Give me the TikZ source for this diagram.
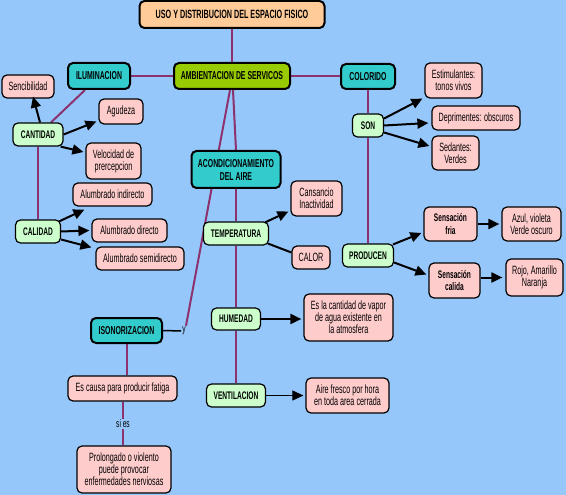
\documentclass[tikz,border=0pt]{standalone}
\usepackage{fontspec}
\setmainfont[FakeStretch=0.6]{Liberation Sans}
\usetikzlibrary{arrows.meta,calc,backgrounds}
\definecolor{bgc}{RGB}{150,199,250}
\definecolor{titlec}{RGB}{255,204,153}
\definecolor{ambc}{RGB}{153,204,0}
\definecolor{tealc}{RGB}{51,204,204}
\definecolor{pinkc}{RGB}{255,204,204}
\definecolor{greenc}{RGB}{204,255,204}
\definecolor{purp}{RGB}{140,50,110}
\tikzset{
  box/.style={draw=black, rounded corners=5pt, inner sep=0pt, align=center, line width=1.2pt},
  pinkbox/.style={box, fill=pinkc, font=\fontsize{12}{12}\selectfont},
  greenbox/.style={box, fill=greenc, font=\fontsize{11}{12}\selectfont\bfseries},
  boldpink/.style={box, fill=pinkc, font=\fontsize{11}{12.5}\selectfont\bfseries},
  tealbox/.style={box, fill=tealc, line width=2pt, font=\fontsize{11.5}{13}\selectfont\bfseries},
  ambbox/.style={box, fill=ambc, line width=2pt, font=\fontsize{11.5}{12}\selectfont\bfseries},
  titlebox/.style={box, fill=titlec, line width=2pt, font=\fontsize{12}{12}\selectfont\bfseries},
  lbl/.style={inner sep=1pt, font=\fontsize{11}{11}\selectfont},
  link/.style={draw=purp, line width=2pt},
  arr/.style={draw=black, line width=2pt, -{Triangle[length=11pt,width=10pt]}},
  thinarr/.style={draw=black, line width=1pt, -{Triangle[length=11pt,width=10pt]}},
  plain/.style={draw=black, line width=2pt},
}
\begin{document}
\begin{tikzpicture}[x=1pt,y=-1pt]
\useasboundingbox (0,0) rectangle (566,495);
\begin{scope}[on background layer]
\fill[bgc] (0,0) rectangle (566,495);
\end{scope}

\node[titlebox, minimum width=185pt, minimum height=27pt] (title) at (232,14.5) {USO Y DISTRIBUCION DEL ESPACIO FISICO};
\node[ambbox, minimum width=116pt, minimum height=26pt] (amb) at (232,76) {AMBIENTACION DE SERVICOS};
\node[tealbox, minimum width=62pt, minimum height=26pt] (ilum) at (99,76) {ILUMINACION};
\node[tealbox, minimum width=54pt, minimum height=25pt] (color) at (368,76.5) {COLORIDO};
\node[pinkbox, minimum width=52pt, minimum height=23pt] (sencib) at (28,86.5) {Sencibilidad};
\node[pinkbox, minimum width=44pt, minimum height=25pt] (agud) at (121,111.5) {Agudeza};
\node[greenbox, minimum width=50pt, minimum height=23pt] (cant) at (38,134.5) {CANTIDAD};
\node[pinkbox, minimum width=55pt, minimum height=36pt] (velo) at (113.5,161) {Velocidad de\\prercepcion};
\node[tealbox, minimum width=89pt, minimum height=37pt] (acond) at (236,169.5) {ACONDICIONAMIENTO\\DEL AIRE};
\node[pinkbox, minimum width=79pt, minimum height=23pt] (alind) at (112.5,194.5) {Alumbrado indirecto};
\node[pinkbox, minimum width=57pt, minimum height=35pt] (estim) at (453.5,80.5) {Estimulantes:\\tonos vivos};
\node[pinkbox, minimum width=88pt, minimum height=24pt] (deprim) at (476,118) {Deprimentes: obscuros};
\node[greenbox, minimum width=31pt, minimum height=23pt] (son) at (368,125.5) {SON};
\node[pinkbox, minimum width=47pt, minimum height=34pt] (sed) at (455.5,153) {Sedantes:\\Verdes};
\node[pinkbox, minimum width=51pt, minimum height=35pt] (cans) at (316.5,198.5) {Cansancio\\Inactividad};
\node[greenbox, minimum width=45pt, minimum height=23pt] (calid) at (38,231.5) {CALIDAD};
\node[pinkbox, minimum width=75pt, minimum height=23pt] (aldir) at (129.5,230.5) {Alumbrado directo};
\node[greenbox, minimum width=65pt, minimum height=23pt] (temp) at (236,233.5) {TEMPERATURA};
\node[pinkbox, minimum width=88pt, minimum height=23pt] (alsemi) at (140,258.5) {Alumbrado semidirecto};
\node[pinkbox, minimum width=38pt, minimum height=23pt] (calor) at (311,257.5) {CALOR};
\node[boldpink, minimum width=53pt, minimum height=34pt] (fria) at (450.5,224) {Sensación\\fria};
\node[pinkbox, minimum width=59pt, minimum height=34pt] (azul) at (531.5,224) {Azul, violeta\\Verde oscuro};
\node[greenbox, minimum width=51pt, minimum height=23pt] (prod) at (368,255.5) {PRODUCEN};
\node[boldpink, minimum width=51pt, minimum height=35pt] (calida) at (454.5,280.5) {Sensación\\calida};
\node[pinkbox, minimum width=57pt, minimum height=37pt] (rojo) at (534.5,277.5) {Rojo, Amarillo\\Naranja};
\node[greenbox, minimum width=49pt, minimum height=22pt] (hum) at (236,319) {HUMEDAD};
\node[pinkbox, minimum width=89pt, minimum height=47pt] (esla) at (348.5,317.5) {Es la cantidad de vapor\\de agua existente en\\la atmosfera};
\node[tealbox, minimum width=71pt, minimum height=25pt] (isonor) at (126.5,330.5) {ISONORIZACION};
\node[pinkbox, minimum width=109pt, minimum height=25pt] (causa) at (122.5,388.5) {Es causa para producir fatiga};
\node[greenbox, minimum width=59pt, minimum height=23pt] (vent) at (236,395.5) {VENTILACION};
\node[pinkbox, minimum width=83pt, minimum height=35pt] (aire) at (347.5,395.5) {Aire fresco por hora\\en toda area cerrada};
\node[pinkbox, minimum width=94pt, minimum height=47pt] (prolong) at (124,469.5) {Prolongado o violento\\puede provocar\\enfermedades nerviosas};
\node[lbl] (ylbl) at (184,331) {y};
\node[lbl] (sies) at (123,424) {si es};

\begin{scope}[on background layer]
\draw[link] (title.south) -- (amb.north);
\draw[link] (ilum.east) -- (amb.west);
\draw[link] (amb.east |- color.west) -- (color.west);
\draw[link] ($(ilum.south)+(-14,0)$) -- ($(cant.north)+(13,0)$);
\draw[link] (cant.south) -- (calid.north);
\draw[link] ($(amb.south)+(1,0)$) -- ($(acond.north)+(0,0)$);
\draw[link] ($(amb.south)+(-2,0)$) -- ($(ylbl.north)+(2,0)$);
\draw[link] (acond.south) -- (temp.north);
\draw[link] (temp.south) -- (hum.north);
\draw[link] (hum.south) -- (vent.north);
\draw[link] (color.south) -- (son.north);
\draw[link] (son.south) -- (prod.north);
\draw[link] (isonor.south) -- (isonor.south |- causa.north);
\draw[link] (sies |- causa.south) -- (sies.north);
\draw[link] (sies.south) -- (sies |- prolong.north);
\end{scope}

\draw[plain, line width=1.5pt] (isonor.east) -- (ylbl.west);
\draw[arr] ($(cant.north)+(2,0)$) -- ($(sencib.south)+(5,-2)$);
\draw[arr] (cant.east) -- ($(agud.west)+(-2,10)$);
\draw[arr] ($(cant.south east)+(-3,0)$) -- ($(velo.west)+(-2,-9)$);
\draw[arr] ($(calid.north east)+(-2,2)$) -- ($(alind.south west)+(12,3)$);
\draw[arr] (calid.east) -- ($(aldir.west)+(-2,0)$);
\draw[arr] ($(calid.east)+(0,8)$) -- ($(alsemi.north west)+(-4,1)$);
\draw[arr] ($(temp.north east)+(-4,1)$) -- ($(cans.west)+(-2,13)$);
\draw[plain] ($(temp.south east)+(-1,-2)$) -- ($(calor.west)+(0,-5)$);
\draw[arr] ($(son.east)+(0,-7)$) -- ($(estim.south west)+(-2,0)$);
\draw[arr] (son.east) -- ($(deprim.west)+(-3,5)$);
\draw[arr] ($(son.east)+(0,7)$) -- ($(sed.west)+(-2,-7)$);
\draw[arr] ($(prod.north east)+(-1,1)$) -- ($(fria.west)+(-2,9)$);
\draw[arr] ($(prod.east)+(0,7)$) -- ($(calida.west)+(-2,-6)$);
\draw[arr] (fria.east) -- ($(azul.west)+(-2,0)$);
\draw[arr] ($(calida.east)+(0,-3)$) -- ($(rojo.west)+(-3,0)$);
\draw[arr] (hum.east) -- ($(hum.east -| esla.west)+(-2,0)$);
\draw[thinarr] (vent.east) -- ($(vent.east -| aire.west)+(-2,0)$);
\end{tikzpicture}
\end{document}
